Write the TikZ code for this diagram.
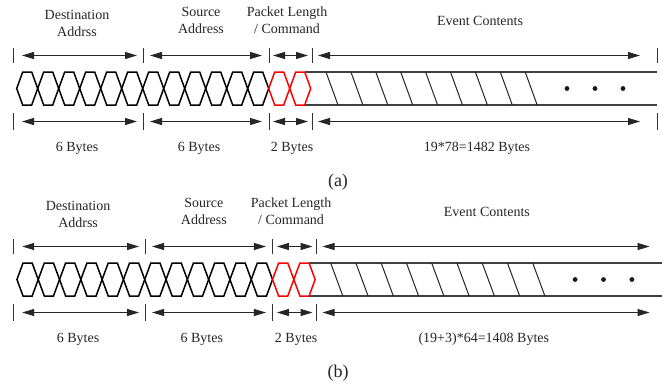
\documentclass[tikz,border=0pt]{standalone}
\usepackage{fontspec}
\setmainfont{Liberation Serif}
\usetikzlibrary{arrows.meta}

\begin{document}
\begin{tikzpicture}[
  x=1pt, y=-1pt,
  font=\fontsize{14}{17}\selectfont,
  txt/.style={text=black!85, inner sep=0pt, align=center},
  capt/.style={text=black!85, inner sep=0pt, font=\fontsize{18}{20}\selectfont},
  dim/.style={{Triangle[length=12pt,width=7pt]}-{Triangle[length=12pt,width=7pt]}, line width=1pt, draw=black!85},
  tickmark/.style={line width=1pt, draw=black!80},
  band/.style={line width=1.3pt, draw=black!75},
  hexa/.style={line width=1.5pt, line join=miter},
  stripe/.style={line width=1pt, draw=black!85}
]

\fill[white] (0,0) rectangle (662,386);
\useasboundingbox (0,0) rectangle (662,386);

\foreach \pn/\oy/\sx/\total/\plabel in {a/0/1/{19*78=1482 Bytes}/(a), b/191/1.0143/{(19+3)*64=1408 Bytes}/(b)} {
  \begin{scope}[shift={(0,\oy)}, xscale=\sx]
    \draw[band] (305,72) -- (657,72);
    \draw[band] (305,105) -- (657,105);
    \foreach \k in {0,...,8} {
      \draw[stripe] (326+24.9*\k,72) -- (338+24.9*\k,105);
    }
    \foreach \i in {0,...,11} {
      \draw[hexa, draw=black] (16.7+21*\i,88.5) -- (22.7+21*\i,72) -- (31.7+21*\i,72) -- (37.7+21*\i,88.5) -- (31.7+21*\i,105) -- (22.7+21*\i,105) -- cycle;
    }
    \foreach \i in {12,13} {
      \draw[hexa, draw=red] (16.7+21*\i,88.5) -- (22.7+21*\i,72) -- (31.7+21*\i,72) -- (37.7+21*\i,88.5) -- (31.7+21*\i,105) -- (22.7+21*\i,105) -- cycle;
    }
    \foreach \x in {567,595,623} {
      \fill[black!90] (\x,88.5) circle (2.4pt);
    }

    \foreach \tx [count=\j from 0] in {13,143,269,312,657} {
      \draw[tickmark] (\tx,48) -- (\tx,63);
      \draw[tickmark] (\tx,113) -- (\tx,130);
      \coordinate (u\pn\j) at (\tx,55.5);
      \coordinate (l\pn\j) at (\tx,121.5);
    }
    \foreach \a/\b/\sl/\sr in {0/1/9/6, 1/2/7/7, 2/3/4/4, 3/4/6/17} {
      \draw[dim, shorten <=\sl pt, shorten >=\sr pt] (u\pn\a) -- (u\pn\b);
      \draw[dim, shorten <=\sl pt, shorten >=\sr pt] (l\pn\a) -- (l\pn\b);
    }

    \node[txt] (dst\pn) at (77,23.5) {Destination\\Addrss};
    \node[txt] (src\pn) at (201,20.5) {Source\\Address};
    \node[txt] (pkt\pn) at (287,20.5) {Packet Length\\/ Command};
    \node[txt] (evt\pn) at (480,21) {Event Contents};
    \node[txt] (byd\pn) at (77,148) {6 Bytes};
    \node[txt] (bys\pn) at (199,148) {6 Bytes};
    \node[txt] (byp\pn) at (292,148) {2 Bytes};
    \node[txt] (bye\pn) at (477,148) {\total};
  \end{scope}
  \node[capt] (cap\pn) at (338,\oy+182) {\plabel};
}

\end{tikzpicture}
\end{document}
